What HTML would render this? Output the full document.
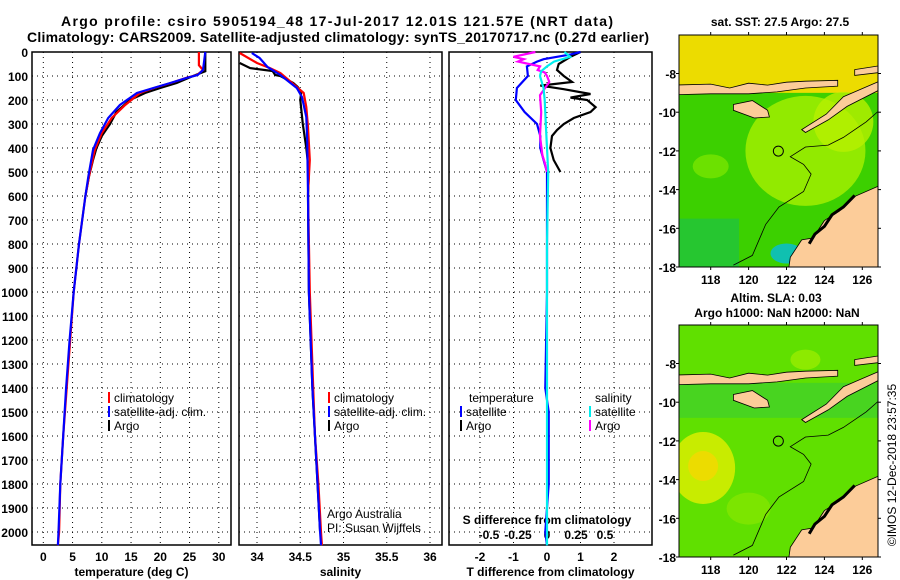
<!DOCTYPE html>
<html><head><meta charset="utf-8"><style>
html,body{margin:0;padding:0;background:#fff;}
svg{display:block;font-family:"Liberation Sans",sans-serif;}
.b{font-weight:bold;}
</style></head><body>
<svg id="fig" width="900" height="580" viewBox="0 0 900 580" xmlns="http://www.w3.org/2000/svg">
<g id="titles">
<text x="337" y="26" text-anchor="middle" font-size="14" class="b" textLength="552">Argo profile: csiro 5905194_48 17-Jul-2017 12.01S 121.57E (NRT data)</text>
<text x="338" y="42" text-anchor="middle" font-size="14" class="b" textLength="622">Climatology: CARS2009. Satellite-adjusted climatology: synTS_20170717.nc (0.27d earlier)</text>
</g>
<g id="p1"></g>
<g id="p2"></g>
<g id="p3"></g>
<g id="m1"></g>
<g id="m2"></g>
<text transform="translate(896,465) rotate(-90)" text-anchor="middle" font-size="12">©IMOS 12-Dec-2018 23:57:35</text>
</svg>
<script>
// ---- data ----
const depthTicks=[0,100,200,300,400,500,600,700,800,900,1000,1100,1200,1300,1400,1500,1600,1700,1800,1900,2000];
const tempTicks=[0,5,10,15,20,25,30];
const salTicks=[34,34.5,35,35.5,36];
const salTickLabels=["34","34.5","35","35.5","36"];
const dtTicks=[-2,-1,0,1,2];
const dsTicks=[-0.5,-0.25,0,0.25,0.5];
const dsTickLabels=["-0.5","-0.25","0","0.25","0.5"];
const lonTicks=[118,120,122,124,126];
const latTicks=[-8,-10,-12,-14,-16,-18];

const tClimD=[0,55,75,96,108,129,150,171,221,275,338,408,520,600,800,1000,1200,1400,1600,1800,2000,2055];
const tClimV=[26.6,26.6,27.3,26.3,24.4,21.8,18.9,16.5,14.0,11.7,10.0,8.8,7.8,7.2,6.1,5.2,4.6,4.0,3.4,2.9,2.7,2.5];
const tSatD=[0,75,96,108,129,150,171,221,275,338,408,520,600,800,1000,1200,1400,1600,1800,2000,2055];
const tSatV=[27.7,27.3,26.4,24.5,21.7,18.8,16.0,13.1,11.1,9.7,8.5,7.7,7.2,6.1,5.2,4.5,3.9,3.4,2.9,2.6,2.5];
const tArgoD=[0,80,100,129,150,171,200,250,300,350,400,450,520,600];
const tArgoV=[27.7,27.7,25.6,22.8,20.0,17.4,14.8,12.5,11.4,10.0,9.1,8.5,7.8,7.2];

const sClimD=[4,46,67,88,146,171,229,312,450,588,1000,1400,1600,1800,2000,2055];
const sClimV=[33.80,34.00,34.15,34.27,34.46,34.54,34.57,34.59,34.61,34.59,34.61,34.65,34.67,34.71,34.74,34.75];
const sSatD=[4,25,62,96,150,188,271,367,588,1000,1400,1600,1800,2000,2055];
const sSatV=[33.94,34.03,34.12,34.27,34.46,34.52,34.57,34.58,34.59,34.60,34.64,34.67,34.70,34.73,34.74];
const sArgoD=[46,67,79,96,100,129,146,171,200,300,400,500,600,1000,1400,2000];
const sArgoV=[33.80,33.92,34.18,34.21,34.27,34.42,34.47,34.51,34.50,34.53,34.57,34.60,34.59,34.60,34.64,34.73];

const dtSatD=[0,10,30,40,60,100,150,200,250,300,350,400,450,500,700,1000,1400,1500,1800,2000,2055];
const dtSatV=[1.0,0.7,-0.1,-0.3,-0.6,-0.57,-0.9,-0.93,-0.67,-0.3,-0.2,-0.2,-0.1,0,0,0,-0.05,0.05,0.05,-0.05,0];
const dtArgoD=[0,20,50,75,100,125,140,155,175,190,200,230,250,275,300,325,350,400,450,500];
const dtArgoV=[1.0,0.7,0.35,0.3,0.5,0.75,-0.2,0.5,1.3,0.7,1.2,1.45,1.3,0.8,0.5,0.3,0.15,0.1,0.2,0.4];
const dsArgoD=[0,20,30,40,60,75,85,100,125,180,250,350,430,460,500];
const dsArgoV=[-0.1,-0.29,-0.2,-0.25,-0.06,-0.08,-0.02,0,0.02,-0.06,-0.05,-0.06,-0.04,-0.02,0];
const dsSatD=[0,20,40,60,80,100,150,200,300,400,500,800,1200,1600,2000,2055];
const dsSatV=[0.15,0.2,0.06,0,-0.05,-0.06,-0.03,-0.02,-0.01,0,0.01,0,0,0,0,0];

const NS="http://www.w3.org/2000/svg";
function el(tag,attrs,parent){const e=document.createElementNS(NS,tag);for(const k in attrs)e.setAttribute(k,attrs[k]);parent.appendChild(e);return e;}
const TOP=52,BOT=545;
const yD=d=>TOP+d*0.24;

function panel(g,x0,x1,xs,xt,xl,title,ylabels){
  for(const d of depthTicks){
    const l=el('line',{x1:x0,x2:x1,y1:yD(d),y2:yD(d),stroke:'#000','stroke-width':1,'stroke-dasharray':'1,4'},g);
    
    if(ylabels){const t=el('text',{x:28,y:yD(d)+5,'text-anchor':'end','font-size':12,'font-weight':'bold'},g);t.textContent=d;
      }
  }
  xt.forEach((v,i)=>{const x=xs(v);
    const l=el('line',{x1:x,x2:x,y1:TOP,y2:BOT,stroke:'#000','stroke-width':1,'stroke-dasharray':'1,4'},g);
    
    const t=el('text',{x:x,y:561,'text-anchor':'middle','font-size':12,'font-weight':'bold'},g);t.textContent=xl[i];
    });
  const r=el('rect',{x:x0,y:TOP,width:x1-x0,height:BOT-TOP,fill:'none',stroke:'#000','stroke-width':1.5},g);
  
  const t=el('text',{x:(x0+x1)/2,y:576,'text-anchor':'middle','font-size':12,'font-weight':'bold'},g);t.textContent=title;
  
}
function line(g,D,V,xs,color,name){
  const pts=D.map((d,i)=>xs(V[i]).toFixed(1)+','+yD(d).toFixed(1)).join(' ');
  const p=el('polyline',{points:pts,fill:'none',stroke:color,'stroke-width':2.2},g);
  
}
function legend(g,x,y,color,label,name){
  const l=el('line',{x1:x,x2:x,y1:y-10,y2:y+1,stroke:color,'stroke-width':2},g);
  
  const t=el('text',{x:x+5,y:y,'font-size':12},g);t.textContent=label;
  
}
function txt(g,x,y,s,name,opts){const t=el('text',Object.assign({x:x,y:y,'font-size':12},opts||{}),g);t.textContent=s;
  return t;}

// panel 1
const g1=document.getElementById('p1');
const xT=v=>43.3+5.85*v;
panel(g1,32,231,xT,tempTicks,tempTicks.map(String),'temperature (deg C)',true);
line(g1,tArgoD,tArgoV,xT,'#000','argo-temperature-line');
line(g1,tClimD,tClimV,xT,'#f00','climatology-temperature-line');
line(g1,tSatD,tSatV,xT,'#00f','satellite-temperature-line');
legend(g1,109,402,'#f00','climatology','legend-climatology');
legend(g1,109,416,'#00f','satellite-adj. clim.','legend-satellite');
legend(g1,109,430,'#000','Argo','legend-argo');

// panel 2
const g2=document.getElementById('p2');
const xS=v=>257+86.5*(v-34);
panel(g2,239,442,xS,salTicks,salTickLabels,'salinity',false);
line(g2,sArgoD,sArgoV,xS,'#000','argo-salinity-line');
line(g2,sClimD,sClimV,xS,'#f00','climatology-salinity-line');
line(g2,sSatD,sSatV,xS,'#00f','satellite-salinity-line');
legend(g2,329,402,'#f00','climatology','legend-climatology');
legend(g2,329,416,'#00f','satellite-adj. clim.','legend-satellite');
legend(g2,329,430,'#000','Argo','legend-argo');
txt(g2,327,518,'Argo Australia','credit-argo-australia',{'font-size':12});
txt(g2,327,532,'PI: Susan Wijffels','credit-pi',{'font-size':12});

// panel 3
const g3=document.getElementById('p3');
const xDT=v=>547+33.5*v;
const xDS=v=>547+116*v;
panel(g3,449,652,xDT,dtTicks,dtTicks.map(String),'T difference from climatology',false);
dsTicks.forEach((v,i)=>txt(g3,xDS(v),539,dsTickLabels[i],'s-diff-tick-label',{'text-anchor':'middle','font-weight':'bold'}));
txt(g3,547,524,'S difference from climatology','s-diff-axis-title',{'text-anchor':'middle','font-weight':'bold'});
line(g3,dtArgoD,dtArgoV,xDT,'#000','argo-t-diff-line');
line(g3,dtSatD,dtSatV,xDT,'#00f','satellite-t-diff-line');
line(g3,dsArgoD,dsArgoV,xDS,'#f0f','argo-s-diff-line');
line(g3,dsSatD,dsSatV,xDS,'#0ee','satellite-s-diff-line');
txt(g3,469,402,'temperature','legend-temperature-header');
legend(g3,461,416,'#00f','satellite','legend-t-satellite');
legend(g3,461,430,'#000','Argo','legend-t-argo');
txt(g3,595,402,'salinity','legend-salinity-header');
legend(g3,590,416,'#0ee','satellite','legend-s-satellite');
legend(g3,590,430,'#f0f','Argo','legend-s-argo');

// maps
function map(gid,top,kind){
  const g=document.getElementById(gid);
  const L=679,R=878,T=top,B=top+232;
  const X=lon=>710.7+(lon-118)*18.95;
  const Y=lat=>T+38.5+(-8-lat)*19.35;
  const P=a=>a.map(p=>X(p[0]).toFixed(1)+','+Y(p[1]).toFixed(1)).join(' ');
  const id=gid+'c';
  const defs=el('defs',{},g);
  const cp=el('clipPath',{id:id},defs);el('rect',{x:L,y:T,width:R-L,height:B-T},cp);
  const c=el('g',{'clip-path':'url(#'+id+')'},g);
  if(kind==='sst'){
    el('rect',{x:L,y:T,width:R-L,height:B-T,fill:'#3cd000'},c);
    el('rect',{x:L,y:T,width:R-L,height:Y(-9.0)-T,fill:'#ecdc00'},c);
    el('ellipse',{cx:X(123),cy:Y(-12),rx:60,ry:55,fill:'#a8f000',opacity:0.8},c);
    el('ellipse',{cx:X(125),cy:Y(-10.5),rx:30,ry:30,fill:'#b8f000',opacity:0.8},c);
    el('ellipse',{cx:X(118),cy:Y(-12.8),rx:18,ry:12,fill:'#80e800',opacity:0.7},c);
    el('rect',{x:L,y:Y(-15.5),width:60,height:B-Y(-15.5),fill:'#18c050',opacity:0.6},c);
    el('ellipse',{cx:X(122),cy:Y(-17.3),rx:16,ry:10,fill:'#10c0b0'},c);
    el('ellipse',{cx:X(123.5),cy:Y(-16.9),rx:6,ry:5,fill:'#1060e0'},c);
  } else {
    el('rect',{x:L,y:T,width:R-L,height:B-T,fill:'#60e000'},c);
    el('rect',{x:L,y:Y(-9.0),width:R-L,height:35,fill:'#30c840',opacity:0.5},c);
    el('ellipse',{cx:X(117.6),cy:Y(-13.4),rx:32,ry:36,fill:'#c8ec00'},c);
    el('ellipse',{cx:X(117.6),cy:Y(-13.3),rx:15,ry:15,fill:'#ecdc00'},c);
    el('ellipse',{cx:X(123),cy:Y(-7.8),rx:15,ry:10,fill:'#98ec00',opacity:0.8},c);
    el('ellipse',{cx:X(120),cy:Y(-15.5),rx:22,ry:16,fill:'#90e800',opacity:0.6},c);
  }
  const land='#fccc99';
  const lands=[
    [[116,-8.6],[118,-8.55],[119,-8.75],[120,-8.5],[121,-8.6],[122,-8.45],[123,-8.4],[124.7,-8.35],[124.7,-8.65],[123,-8.75],[121.5,-8.95],[120,-9.05],[118,-9.05],[116,-9.1]],
    [[125.6,-7.8],[126.9,-7.6],[126.9,-7.95],[125.6,-8.1]],
    [[119.2,-9.6],[120.2,-9.4],[121,-9.9],[121.1,-10.25],[120.3,-10.3],[119.2,-9.9]],
    [[122.8,-10.9],[124.1,-10.1],[125,-9.2],[126.9,-8.4],[126.9,-8.85],[125.2,-9.7],[124.2,-10.4],[123,-11.05]],
    [[126.9,-13.8],[125.5,-14.4],[124.8,-15.1],[124,-15.6],[123.4,-16.5],[122.8,-16.6],[122.2,-17.5],[122.1,-18.2],[126.9,-18.2]]
  ];
  lands.forEach(a=>{const p=el('polygon',{points:P(a),fill:land,stroke:'#000','stroke-width':0.8},c);
    });
  const k=el('polyline',{points:P([[125.6,-14.3],[125,-14.9],[124.4,-15.3],[124,-15.9],[123.5,-16.3],[123.2,-16.8]]),fill:'none',stroke:'#000','stroke-width':3},c);
  
  const bath=el('polyline',{points:P([[119.2,-17.9],[120.2,-17.4],[120.9,-15.8],[121.6,-14.9],[122.9,-14.1],[123.3,-13.2],[122.9,-12.7],[122.2,-12.3],[123,-11.8],[124.2,-11.7],[125,-11.3],[126.2,-10.5],[126.9,-9.9]]),fill:'none',stroke:'#000','stroke-width':0.8},c);
  
  const ci=el('circle',{cx:X(121.57),cy:Y(-12.01),r:5,fill:'none',stroke:'#000','stroke-width':1},g);
  
  const fr=el('rect',{x:L,y:T,width:R-L,height:B-T,fill:'none',stroke:'#000','stroke-width':1},g);
  
  lonTicks.forEach(v=>{el('line',{x1:X(v),x2:X(v),y1:B,y2:B+3,stroke:'#000'},g);el('line',{x1:X(v),x2:X(v),y1:T,y2:T-3,stroke:'#000'},g);
    txt(g,X(v),B+17,String(v),'lon-tick-label',{'text-anchor':'middle','font-weight':'bold'});});
  latTicks.forEach(v=>{el('line',{x1:L-3,x2:L,y1:Y(v),y2:Y(v),stroke:'#000'},g);el('line',{x1:R,x2:R+3,y1:Y(v),y2:Y(v),stroke:'#000'},g);
    txt(g,L-3,Y(v)+5,String(v),'lat-tick-label',{'text-anchor':'end','font-weight':'bold'});});
}
map('m1',35,'sst');
map('m2',325,'sla');
const gm1=document.getElementById('m1'),gm2=document.getElementById('m2');
txt(gm1,780,26,'sat. SST: 27.5 Argo: 27.5','sst-map-title',{'text-anchor':'middle','font-weight':'bold'});
txt(gm2,776,302,'Altim. SLA: 0.03','sla-map-title',{'text-anchor':'middle','font-weight':'bold'});
txt(gm2,777,317,'Argo h1000: NaN h2000: NaN','sla-map-subtitle',{'text-anchor':'middle','font-weight':'bold'});
</script>
</body></html>
